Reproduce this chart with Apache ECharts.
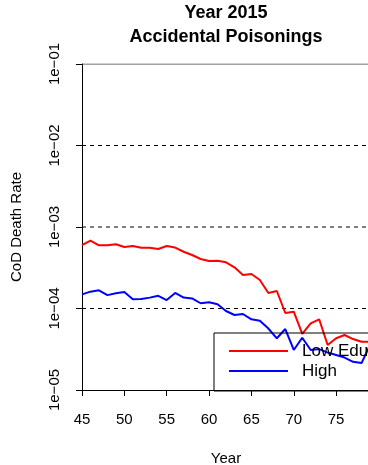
<!DOCTYPE html>
<html>
<head>
<meta charset="utf-8">
<script src="https://cdn.jsdelivr.net/npm/echarts@6/dist/echarts.min.js"></script>
<style>
  html, body { margin: 0; padding: 0; background: #fff; }
  #chart { width: 368px; height: 465px; }
</style>
</head>
<body>
<div id="chart"></div>
<script>
// Age (years) on the x axis
const years = [45, 46, 47, 48, 49, 50, 51, 52, 53, 54, 55, 56, 57, 58, 59, 60, 61, 62,
               63, 64, 65, 66, 67, 68, 69, 70, 71, 72, 73, 74, 75, 76, 77, 78, 79];

// Cause-of-death rates, accidental poisonings, 2015
const lowEdu = [6.0e-4, 6.8e-4, 5.96e-4, 5.96e-4, 6.13e-4, 5.68e-4, 5.84e-4, 5.57e-4, 5.57e-4,
                5.37e-4, 5.84e-4, 5.60e-4, 4.97e-4, 4.53e-4, 4.05e-4, 3.83e-4, 3.86e-4, 3.69e-4,
                3.20e-4, 2.58e-4, 2.65e-4, 2.24e-4, 1.55e-4, 1.64e-4, 8.81e-5, 9.14e-5, 4.87e-5,
                6.58e-5, 7.37e-5, 3.56e-5, 4.31e-5, 4.73e-5, 4.22e-5, 3.91e-5, 3.91e-5];
const highEdu = [1.49e-4, 1.61e-4, 1.67e-4, 1.46e-4, 1.54e-4, 1.59e-4, 1.30e-4, 1.31e-4, 1.36e-4,
                 1.43e-4, 1.27e-4, 1.55e-4, 1.36e-4, 1.33e-4, 1.16e-4, 1.19e-4, 1.13e-4, 9.32e-5,
                 8.32e-5, 8.56e-5, 7.37e-5, 7.09e-5, 5.68e-5, 4.31e-5, 5.60e-5, 3.10e-5, 4.38e-5,
                 3.10e-5, 3.18e-5, 2.88e-5, 2.69e-5, 2.50e-5, 2.22e-5, 2.14e-5, 3.56e-5];

const seriesNames = ['Low Edu', 'High'];

// Axis ticks
const xTicks = [45, 50, 55, 60, 65, 70, 75];
const yTickValues = [1e-5, 1e-4, 1e-3, 1e-2, 1e-1];
const yTickLabels = ['1e\u221205', '1e\u221204', '1e\u221203', '1e\u221202', '1e\u221201'];

// Horizontal reference levels
const dashedLevels = [1e-2, 1e-3, 1e-4];
const solidLevels = [1e-1];

const FONT = "'Liberation Sans', Arial, Helvetica, sans-serif";
const X_MIN = 45, X_MAX = 79;

function yLabel(v) {
  const exp = Math.round(Math.log10(v));
  for (let i = 0; i < yTickValues.length; i++) {
    if (Math.round(Math.log10(yTickValues[i])) === exp) return yTickLabels[i];
  }
  return '';
}

// A horizontal guide spanning the full age range
function levelSeries(v, type, color) {
  return {
    type: 'line',
    data: [[X_MIN, v], [X_MAX, v]],
    symbol: 'none',
    silent: true,
    lineStyle: { color: color, width: 1, type: type },
    z: 1
  };
}

const chart = echarts.init(document.getElementById('chart'), null, { renderer: 'canvas' });

chart.setOption({
  animation: false,
  backgroundColor: '#ffffff',
  textStyle: { fontFamily: FONT },
  title: {
    text: 'Year 2015\nAccidental Poisonings',
    left: 226,
    top: 1,
    textAlign: 'center',
    padding: 0,
    textStyle: { fontFamily: FONT, fontSize: 18, fontWeight: 'bold', color: '#000', lineHeight: 24 }
  },
  grid: { left: 82, top: 64, right: -2, bottom: 75, containLabel: false, outerBoundsMode: 'none' },
  xAxis: {
    type: 'value',
    min: X_MIN,
    max: X_MAX,
    interval: 5,
    name: 'Year',
    nameLocation: 'middle',
    nameGap: 61,
    nameTextStyle: { fontFamily: FONT, fontSize: 15, color: '#000' },
    axisLine: { show: true, onZero: false, lineStyle: { color: '#000', width: 1 } },
    axisTick: { show: true, length: 6, lineStyle: { color: '#000' } },
    axisLabel: {
      fontFamily: FONT, fontSize: 15, color: '#000', margin: 22,
      showMaxLabel: false,
      formatter: v => (xTicks.indexOf(v) >= 0 ? String(v) : '')
    },
    splitLine: { show: false }
  },
  yAxis: {
    type: 'log',
    logBase: 10,
    min: 1e-5,
    max: 1e-1,
    name: 'CoD Death Rate',
    nameLocation: 'middle',
    nameRotate: 90,
    nameGap: 58,
    nameTextStyle: { fontFamily: FONT, fontSize: 15, color: '#000' },
    axisLine: { show: true, lineStyle: { color: '#000', width: 1 } },
    axisTick: { show: true, length: 6, lineStyle: { color: '#000' } },
    axisLabel: {
      fontFamily: FONT, fontSize: 15, color: '#000', rotate: 90, margin: 20,
      formatter: yLabel
    },
    splitLine: { show: false }
  },
  legend: {
    data: seriesNames,
    orient: 'vertical',
    left: 214,
    top: 333,
    itemWidth: 59,
    itemHeight: 4,
    itemGap: 0,
    padding: [8, 20, 10, 14],
    borderColor: '#000',
    borderWidth: 1,
    backgroundColor: 'transparent',
    itemStyle: { opacity: 0 },
    textStyle: { fontFamily: FONT, fontSize: 17, color: '#000', lineHeight: 20, padding: [0, 0, 0, 9] }
  },
  series: [
    {
      name: seriesNames[0],
      type: 'line',
      data: years.map((y, i) => [y, lowEdu[i]]),
      symbol: 'none',
      lineStyle: { color: '#ff0000', width: 2 },
      itemStyle: { color: '#ff0000' },
      z: 3
    },
    {
      name: seriesNames[1],
      type: 'line',
      data: years.map((y, i) => [y, highEdu[i]]),
      symbol: 'none',
      lineStyle: { color: '#0000ff', width: 2 },
      itemStyle: { color: '#0000ff' },
      z: 3
    }
  ].concat(
    dashedLevels.map(v => levelSeries(v, [4, 4], '#000')),
    solidLevels.map(v => levelSeries(v, 'solid', '#444'))
  )
});
</script>
</body>
</html>
